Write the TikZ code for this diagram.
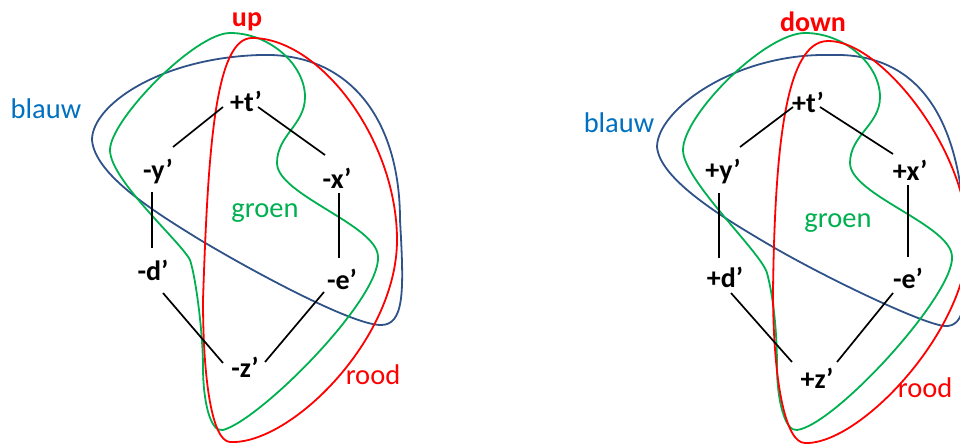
\documentclass[tikz,border=0pt]{standalone}
\usepackage{fontspec}
\setmainfont{Carlito}
\definecolor{cblue}{HTML}{2F5288}
\definecolor{tblue}{HTML}{0070C0}
\definecolor{cgreen}{HTML}{00B050}
\definecolor{cred}{HTML}{FF0000}
\begin{document}
\begin{tikzpicture}[x=1pt,y=-1pt,
  vlabel/.style={font=\fontsize{28}{30}\selectfont\bfseries, inner sep=1pt, text=black},
  word/.style={font=\fontsize{28.5}{30}\selectfont, inner sep=1pt},
  title/.style={font=\fontsize{28}{30}\selectfont\bfseries, inner sep=1pt, text=cred},
  edgeline/.style={line width=1.7pt, black},
  bluecurve/.style={line width=1.8pt, cblue, line join=round},
  greencurve/.style={line width=1.8pt, cgreen, line join=round},
  redcurve/.style={line width=1.8pt, cred, line join=round}]
\useasboundingbox (0,0) rectangle (960,444);
\clip (0,0) rectangle (960,444);

% ---------------- left panel ----------------
\draw[bluecurve] (92,140) .. controls (92,105) and (160,58) .. (260,55)
  .. controls (350,52) and (400,120) .. (400,220)
  .. controls (404,290) and (405,326) .. (380,325)
  .. controls (350,324) and (250,270) .. (197,238)
  .. controls (155,212) and (95,175) .. (92,140) -- cycle;
\draw[greencurve] (230,33) .. controls (270,33) and (305,65) .. (305,97)
  .. controls (305,125) and (277,135) .. (277,163)
  .. controls (277,195) and (378,225) .. (378,257)
  .. controls (380,300) and (260,420) .. (223,430)
  .. controls (210,433) and (203,400) .. (203,367)
  .. controls (203,334) and (196,278) .. (190,260)
  .. controls (181,242) and (110,180) .. (110,150)
  .. controls (110,120) and (195,33) .. (230,33) -- cycle;
\draw[redcurve] (252,38) .. controls (320,38) and (397,140) .. (397,240)
  .. controls (397,340) and (290,445) .. (230,442)
  .. controls (212,441) and (203,380) .. (203,300)
  .. controls (208,150) and (215,38) .. (252,38) -- cycle;

\node[title] (up) at (247,22) {up};
\node[word, text=tblue] (blL) at (46,109) {blauw};
\node[word, text=cgreen] (grL) at (265,213) {groen};
\node[word, text=cred] (roL) at (373,375) {rood};

\node[vlabel] (tL) at (246,101) {+t’};
\node[vlabel] (yL) at (158,172) {-y’};
\node[vlabel] (xL) at (337,178) {-x’};
\node[vlabel] (dL) at (153,270) {-d’};
\node[vlabel] (eL) at (342,279) {-e’};
\node[vlabel] (zL) at (245,367) {-z’};

\draw[edgeline] ([shift={(-23,6)}]tL.center) -- ([shift={(15,-25)}]yL.center);
\draw[edgeline] ([shift={(12,6)}]tL.center) -- ([shift={(-12,-23)}]xL.center);
\draw[edgeline] ([shift={(-6,20)}]yL.center) -- ([shift={(-1,-22)}]dL.center);
\draw[edgeline] ([shift={(2,15)}]xL.center) -- ([shift={(-3,-21)}]eL.center);
\draw[edgeline] ([shift={(10,23)}]dL.center) -- ([shift={(-22,-4)}]zL.center);
\draw[edgeline] ([shift={(-18,13)}]eL.center) -- ([shift={(20,-5)}]zL.center);

% ---------------- right panel ----------------
\draw[bluecurve] (657,147) .. controls (657,110) and (735,53) .. (830,55)
  .. controls (920,52) and (962,120) .. (965,240)
  .. controls (968,300) and (965,327) .. (945,326)
  .. controls (925,325) and (830,280) .. (773,247)
  .. controls (725,219) and (660,180) .. (657,147) -- cycle;
\draw[greencurve] (805,33) .. controls (845,33) and (880,65) .. (880,97)
  .. controls (880,125) and (850,135) .. (850,163)
  .. controls (850,195) and (952,225) .. (952,257)
  .. controls (954,295) and (835,425) .. (797,430)
  .. controls (785,432) and (777,400) .. (777,367)
  .. controls (777,330) and (773,295) .. (767,273)
  .. controls (761,252) and (683,180) .. (683,150)
  .. controls (683,115) and (765,33) .. (805,33) -- cycle;
\draw[redcurve] (828,41) .. controls (880,40) and (968,150) .. (968,240)
  .. controls (968,330) and (860,445) .. (805,443)
  .. controls (785,443) and (773,380) .. (773,290)
  .. controls (775,150) and (785,41) .. (828,41) -- cycle;

\node[title] (down) at (813,22) {down};
\node[word, text=tblue] (blR) at (619,123) {blauw};
\node[word, text=cgreen] (grR) at (838,223) {groen};
\node[word, text=cred] (roR) at (925,388) {rood};

\node[vlabel] (tR) at (808,102) {+t’};
\node[vlabel] (yR) at (723,172) {+y’};
\node[vlabel] (xR) at (910,170) {+x’};
\node[vlabel] (dR) at (725,277) {+d’};
\node[vlabel] (eR) at (908,278) {-e’};
\node[vlabel] (zR) at (817,378) {+z’};

\draw[edgeline] ([shift={(-15,5)}]tR.center) -- ([shift={(17,-25)}]yR.center);
\draw[edgeline] ([shift={(12,5)}]tR.center) -- ([shift={(-17,-16)}]xR.center);
\draw[edgeline] ([shift={(-4,21)}]yR.center) -- ([shift={(-6,-19)}]dR.center);
\draw[edgeline] ([shift={(-2,15)}]xR.center) -- ([shift={(0,-21)}]eR.center);
\draw[edgeline] ([shift={(6,16)}]dR.center) -- ([shift={(-25,-16)}]zR.center);
\draw[edgeline] ([shift={(-15,15)}]eR.center) -- ([shift={(20,-16)}]zR.center);
\end{tikzpicture}
\end{document}
